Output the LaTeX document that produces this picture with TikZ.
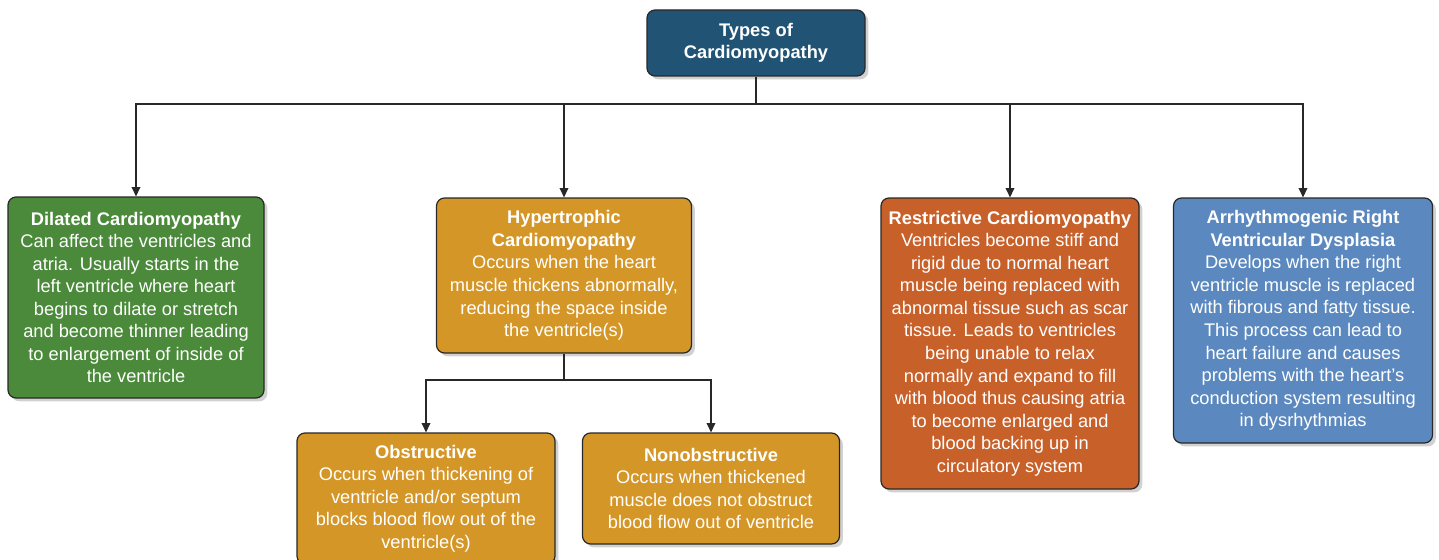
\documentclass[tikz,border=0pt]{standalone}
\usepackage{fontspec}
\setmainfont{Liberation Sans}
\usetikzlibrary{arrows.meta,shadows}
\definecolor{cblue}{RGB}{33,83,116}
\definecolor{cgreen}{RGB}{74,138,58}
\definecolor{cgold}{RGB}{213,150,40}
\definecolor{cred}{RGB}{200,96,42}
\definecolor{csteel}{RGB}{91,137,191}
\definecolor{cline}{RGB}{40,40,40}
\begin{document}
\begin{tikzpicture}[x=0.75pt,y=-0.75pt,
  box/.style={draw=cline,line width=0.9pt,rounded corners=6pt,text=white,align=center,
    inner sep=0pt,font={\fontsize{13.7}{16.9}\selectfont},
    drop shadow={opacity=1,fill=black!18,shadow xshift=2.5pt,shadow yshift=-2.5pt}},
  conn/.style={draw=cline,line width=1pt},
  arr/.style={conn,-{Triangle[length=7pt,width=6.5pt]}}]
\useasboundingbox (0,0) rectangle (1439,560);
\node[box,fill=cblue,minimum width=163.5pt,minimum height=49.5pt] (top) at (756,43)
  {\textbf{Types of}\\\textbf{Cardiomyopathy}};
\node[box,fill=cgreen,minimum width=192pt,minimum height=150.75pt] (dil) at (136,297.5)
  {\textbf{Dilated Cardiomyopathy}\\Can affect the ventricles and\\atria. Usually starts in the\\left ventricle where heart\\begins to dilate or stretch\\and become thinner leading\\to enlargement of inside of\\the ventricle};
\node[box,fill=cgold,minimum width=191.25pt,minimum height=116.25pt] (hyp) at (564,275.5)
  {\textbf{Hypertrophic}\\\textbf{Cardiomyopathy}\\Occurs when the heart\\muscle thickens abnormally,\\reducing the space inside\\the ventricle(s)};
\node[box,fill=cred,minimum width=193.5pt,minimum height=218.25pt] (res) at (1010,343.5)
  {\textbf{Restrictive Cardiomyopathy}\\Ventricles become stiff and\\rigid due to normal heart\\muscle being replaced with\\abnormal tissue such as scar\\tissue. Leads to ventricles\\being unable to relax\\normally and expand to fill\\with blood thus causing atria\\to become enlarged and\\blood backing up in\\circulatory system};
\node[box,fill=csteel,minimum width=194.25pt,minimum height=183.75pt] (arv) at (1303,320.5)
  {\textbf{Arrhythmogenic Right}\\\textbf{Ventricular Dysplasia}\\Develops when the right\\ventricle muscle is replaced\\with fibrous and fatty tissue.\\This process can lead to\\heart failure and causes\\problems with the heart’s\\conduction system resulting\\in dysrhythmias};
\node[box,fill=cgold,minimum width=193.5pt,minimum height=98.25pt] (obs) at (426,498.5)
  {\textbf{Obstructive}\\Occurs when thickening of\\ventricle and/or septum\\blocks blood flow out of the\\ventricle(s)};
\node[box,fill=cgold,minimum width=192.75pt,minimum height=83.25pt] (non) at (711,488.5)
  {\textbf{Nonobstructive}\\Occurs when thickened\\muscle does not obstruct\\blood flow out of ventricle};
\coordinate (bus) at (756,104);
\coordinate (bus2) at (564,380);
\draw[conn] (top.south) -- (bus);
\draw[arr] (bus) -| (dil.north);
\draw[arr] (bus) -| (hyp.north);
\draw[arr] (bus) -| (res.north);
\draw[arr] (bus) -| (arv.north);
\draw[conn] (hyp.south) -- (bus2);
\draw[arr] (bus2) -| (obs.north);
\draw[arr] (bus2) -| (non.north);
\end{tikzpicture}
\end{document}
